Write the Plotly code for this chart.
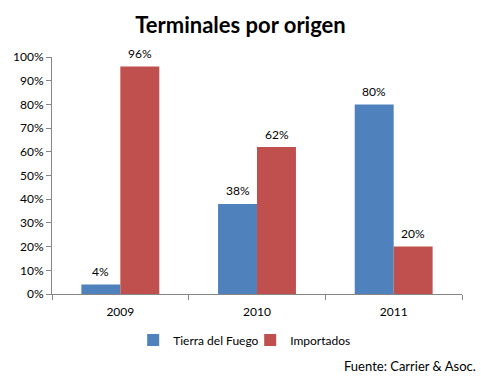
import plotly.graph_objects as go

years = ["2009", "2010", "2011"]
tierra = [4, 38, 80]
importados = [96, 62, 20]
tierra_labels = ["4%", "38%", "80%"]
importados_labels = ["96%", "62%", "20%"]
y_ticks = [0, 10, 20, 30, 40, 50, 60, 70, 80, 90, 100]
y_tick_labels = [f"{v}%" for v in y_ticks]

FONT = "Lato"
BLUE = "#4F81BD"
RED = "#C0504D"

fig = go.Figure()
fig.add_trace(go.Bar(
    x=years, y=tierra, name="Tierra del Fuego",
    marker=dict(color=BLUE, line=dict(width=0)),
))
fig.add_trace(go.Bar(
    x=years, y=importados, name="Importados",
    marker=dict(color=RED, line=dict(width=0)),
))

# data labels above bars (x given as category index)
for i, (v, lab) in enumerate(zip(tierra, tierra_labels)):
    fig.add_annotation(x=i, y=v, text=lab, xref="x", yref="y", showarrow=False,
                       xshift=-19.5, yshift=13, yanchor="middle",
                       font=dict(size=12, family=FONT, color="#000000"))
for i, (v, lab) in enumerate(zip(importados, importados_labels)):
    fig.add_annotation(x=i, y=v, text=lab, xref="x", yref="y", showarrow=False,
                       xshift=19.5, yshift=13, yanchor="middle",
                       font=dict(size=12, family=FONT, color="#000000"))

fig.update_layout(
    width=481, height=378,
    paper_bgcolor="white", plot_bgcolor="white",
    margin=dict(l=52, r=19, t=57, b=84, autoexpand=False),
    barmode="group", bargap=0.43, bargroupgap=0,
    font=dict(family=FONT, size=12, color="#000000"),
    title=dict(text="<b>Terminales por origen</b>", x=0.5, xanchor="center",
               y=0.934, yanchor="middle",
               font=dict(size=22, family=FONT, color="#000000")),
    showlegend=True,
    legend=dict(orientation="h", x=0.198, xanchor="left", y=-0.194, yanchor="middle",
                font=dict(size=12, family=FONT), itemwidth=30,
                entrywidth=72, entrywidthmode="pixels", traceorder="normal"),
)
fig.update_xaxes(
    type="category", categoryorder="array", categoryarray=years,
    range=[-0.5, len(years) - 0.5],
    showline=True, linecolor="#868686", linewidth=1,
    ticks="outside", tickson="boundaries", ticklen=5, tickcolor="#868686",
    ticklabelstandoff=7,
    showgrid=False, tickfont=dict(size=12, family=FONT), tickangle=0,
)
fig.update_yaxes(
    range=[0, 100], tickvals=y_ticks, ticktext=y_tick_labels,
    showline=True, linecolor="#868686", linewidth=1,
    ticks="outside", ticklen=5, tickcolor="#868686",
    showgrid=False, zeroline=False, tickfont=dict(size=12, family=FONT),
)
fig.add_annotation(
    text="Fuente: Carrier & Asoc.", xref="paper", yref="paper",
    x=1.039, xanchor="right", y=-0.304, yanchor="middle", showarrow=False,
    font=dict(size=13, family=FONT, color="#000000"),
)

fig.write_html("out.html", config={"displayModeBar": False},
               post_script="document.body.style.margin='0';")
